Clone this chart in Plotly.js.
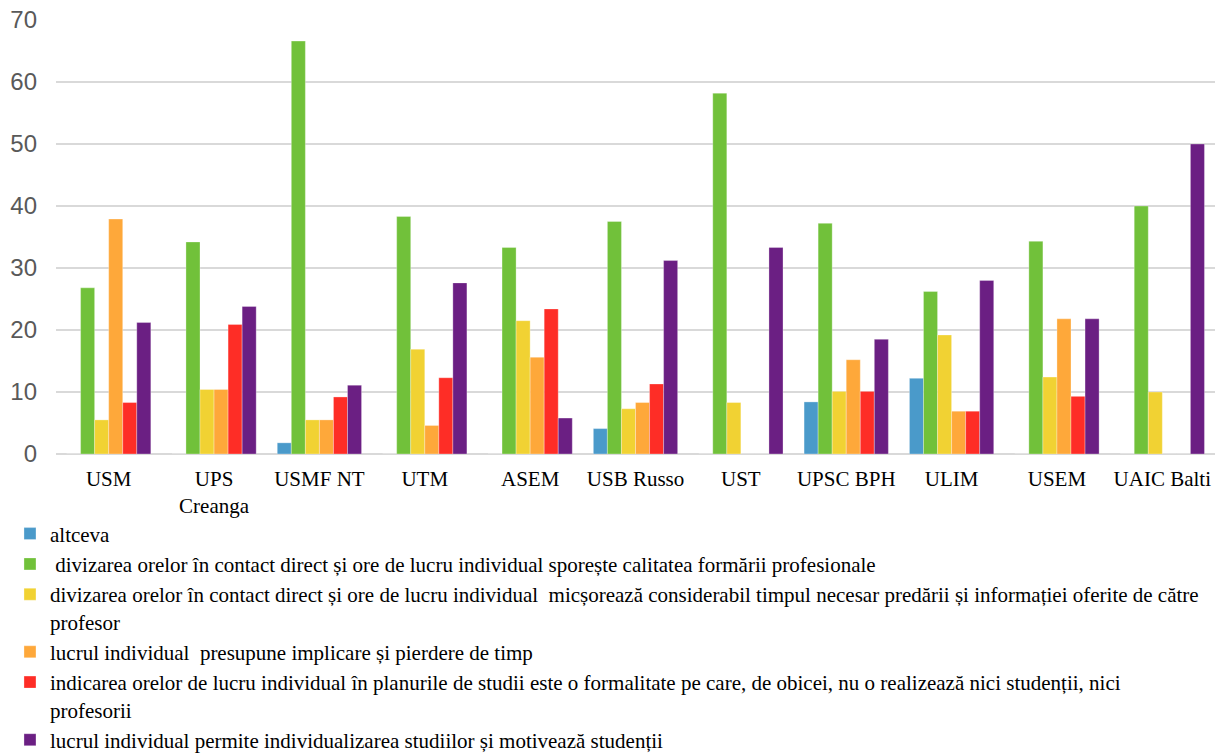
<!DOCTYPE html>
<html>
<head>
<meta charset="utf-8">
<script src="https://cdn.plot.ly/plotly-3.0.1.min.js"></script>
<style>html,body{margin:0;padding:0;background:#fff;}#chart{width:1229px;height:753px;}</style>
</head>
<body>
<div id="chart"></div>
<script>
const categories = ["USM", "UPS<br>Creanga", "USMF NT", "UTM", "ASEM", "USB Russo", "UST", "UPSC BPH", "ULIM", "USEM", "UAIC Balti"];

const seriesNames = [
  "altceva",
  " divizarea orelor în contact direct și ore de lucru individual sporește calitatea formării profesionale",
  "divizarea orelor în contact direct și ore de lucru individual  micșorează considerabil timpul necesar predării și informației oferite de către<br>profesor",
  "lucrul individual  presupune implicare și pierdere de timp",
  "indicarea orelor de lucru individual în planurile de studii este o formalitate pe care, de obicei, nu o realizează nici studenții, nici<br>profesorii",
  "lucrul individual permite individualizarea studiilor și motivează studenții"
];

const altceva      = [0, 0, 1.8, 0, 0, 4.1, 0, 8.4, 12.2, 0, 0];
const sporeste     = [26.8, 34.2, 66.6, 38.3, 33.3, 37.5, 58.2, 37.2, 26.2, 34.3, 40];
const micsoreaza   = [5.5, 10.4, 5.5, 16.9, 21.5, 7.3, 8.3, 10.1, 19.2, 12.4, 10];
const pierdere     = [37.9, 10.4, 5.5, 4.6, 15.6, 8.3, 0, 15.2, 6.9, 21.8, 0];
const formalitate  = [8.3, 20.9, 9.2, 12.3, 23.4, 11.3, 0, 10.1, 6.9, 9.3, 0];
const motiveaza    = [21.2, 23.8, 11.1, 27.6, 5.8, 31.2, 33.3, 18.5, 28.0, 21.8, 50];

const seriesValues = [altceva, sporeste, micsoreaza, pierdere, formalitate, motiveaza];
const colors = ["#4A9ACA", "#71C13A", "#F1D233", "#FEA83A", "#FE2D26", "#6B1F83"];

const serif = "Liberation Serif";

const traces = seriesValues.map((vals, i) => ({
  type: "bar",
  name: seriesNames[i],
  x: categories,
  y: vals,
  marker: {color: colors[i], line: {color: "rgba(255,255,255,0.5)", width: 0.6}},
  hoverinfo: "x+y"
}));

const layout = {
  width: 1229,
  height: 753,
  font: {family: serif, size: 21, color: "#000"},
  margin: {l: 56, r: 14, t: 20, b: 299, autoexpand: false},
  paper_bgcolor: "#ffffff",
  plot_bgcolor: "#ffffff",
  barmode: "group",
  bargap: 0.2,
  bargroupgap: 0,
  showlegend: true,
  legend: {
    orientation: "v",
    x: -0.0397,
    xanchor: "left",
    y: -0.137,
    yanchor: "top",
    valign: "top",
    tracegroupgap: 0,
    font: {family: serif, size: 21, color: "#000"},
    bgcolor: "rgba(0,0,0,0)"
  },
  xaxis: {
    type: "category",
    showgrid: false,
    zeroline: false,
    showline: false,
    ticks: "",
    ticklabelstandoff: 10,
    tickfont: {family: serif, size: 21, color: "#000"},
    fixedrange: true
  },
  yaxis: {
    range: [0, 70],
    tickvals: [0, 10, 20, 30, 40, 50, 60, 70],
    showgrid: true,
    gridcolor: "#D9D9D9",
    gridwidth: 1.5,
    zeroline: true,
    zerolinecolor: "#D9D9D9",
    zerolinewidth: 1.5,
    showline: false,
    ticks: "",
    ticklabelstandoff: 18,
    tickfont: {family: "Liberation Sans", size: 24, color: "#595959"},
    fixedrange: true
  }
};

Plotly.newPlot("chart", traces, layout, {displayModeBar: false, staticPlot: true});
</script>
</body>
</html>
